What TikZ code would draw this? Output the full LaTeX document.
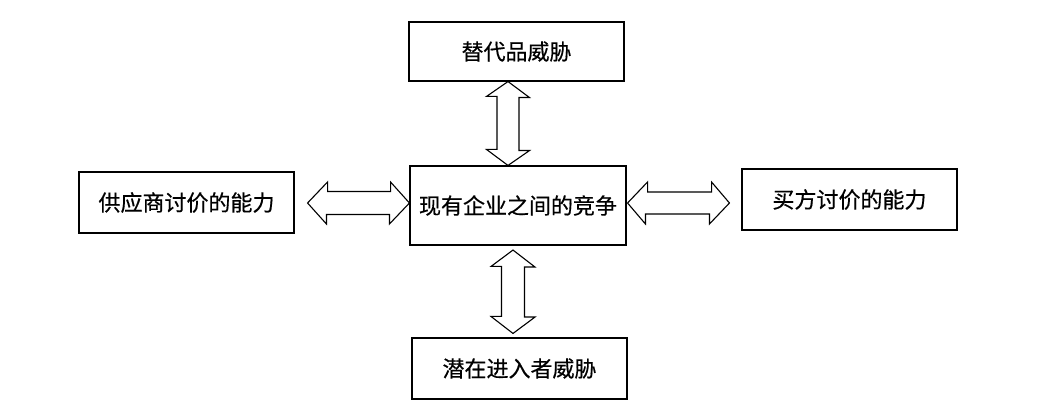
\documentclass[tikz,border=0pt]{standalone}
\usepackage{fontspec}
\setmainfont{Noto Sans CJK SC}[FakeBold=0.5]
\usetikzlibrary{calc}

\begin{document}
\begin{tikzpicture}[x=1pt, y=-1pt,
  force/.style={draw, line width=1.1pt, minimum width=215pt, minimum height=61pt,
    inner sep=0pt, font=\fontsize{22}{26}\selectfont},
  fat/.style={draw, line width=1.1pt, line join=miter}]
\useasboundingbox (0,0) rectangle (1045,414);
\node[force, minimum height=59pt] (sub)    at (516.5,51.5)  {替代品威胁};
\node[force, minimum width=216pt, minimum height=79pt] (rival) at (518,205.5) {现有企业之间的竞争};
\node[force] (supplier) at (186.5,202.5) {供应商讨价的能力};
\node[force] (buyer)    at (849.5,199.5) {买方讨价的能力};
\node[force] (entrant)  at (519.5,368.5) {潜在进入者威胁};
% arrow tips
\coordinate (t1) at ($(sub.south)+(-8.5,0)$);
\coordinate (b1) at (t1 |- rival.north);
\coordinate (t4) at ($(rival.south)+(-5,4.5)$);
\coordinate (b4) at ($(entrant.north)+(-6.5,-4)$);
\coordinate (l2) at ($(supplier.east)+(13,0.5)$);
\coordinate (r2) at (rival.west |- l2);
\coordinate (l3) at ($(rival.east)+(1,-2.5)$);
\coordinate (r3) at ($(buyer.west)+(-12,3.5)$);
\draw[fat] (t1) -- ++(21.5,16) -- ++(-10.5,0) -- ++(0,53) -- ++(10.5,0) -- (b1)
  -- ++(-21.5,-16) -- ++(10.5,0) -- ++(0,-53) -- ++(-10.5,0) -- cycle;
\draw[fat] (t4) -- ++(22,17) -- ++(-10.5,0) -- ++(0,50) -- ++(10.5,0) -- (b4)
  -- ++(-22,-17) -- ++(10.5,0) -- ++(0,-50) -- ++(-10.5,0) -- cycle;
\draw[fat] (l2) -- ++(20,-21) -- ++(0,9.5) -- ++(63,0) -- ++(0,-9.5) -- (r2)
  -- ++(-20,21) -- ++(0,-9.5) -- ++(-63,0) -- ++(0,9.5) -- cycle;
\draw[fat] (l3) -- ++(20,-21) -- ++(0,10) -- ++(64,0) -- ++(0,-10) -- (r3)
  -- ++(-20,21) -- ++(0,-10) -- ++(-64,0) -- ++(0,10) -- cycle;
\end{tikzpicture}
\end{document}
